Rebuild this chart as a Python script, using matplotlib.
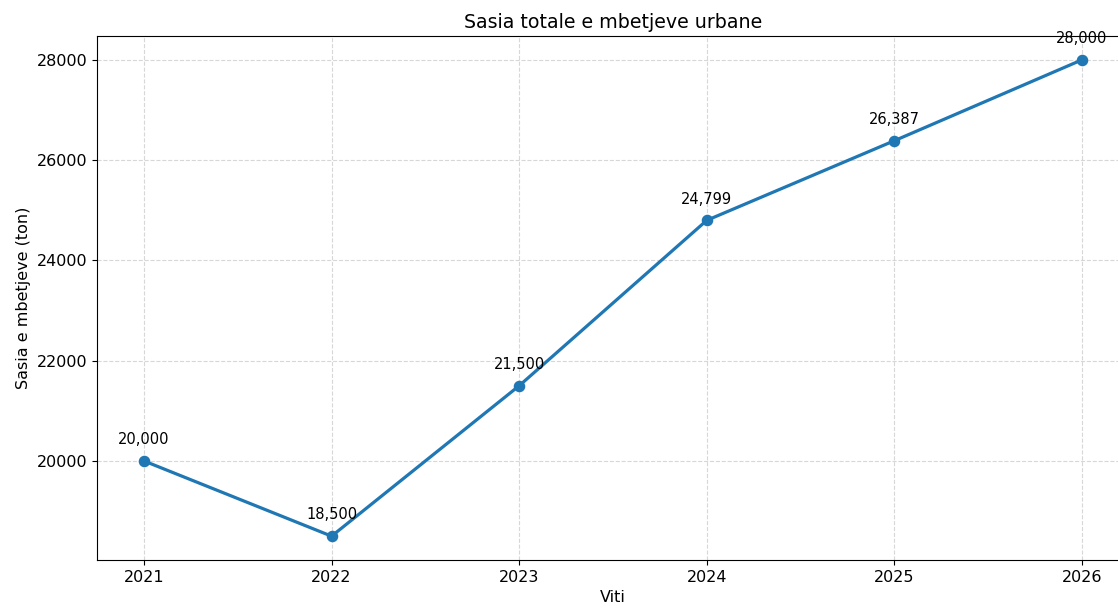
import matplotlib
matplotlib.use("Agg")
import matplotlib.pyplot as plt

# te dhenat
vitet = [2021, 2022, 2023, 2024, 2025, 2026]
mbetjet = [20000, 18500, 21500, 24799, 26387, 28000]

fig = plt.figure(figsize=(11.18, 6.1), dpi=100)
ax = fig.add_axes([0.0868, 0.082, 0.923, 0.859])

ax.plot(vitet, mbetjet, marker='o', linewidth=2.3, markersize=7.3, color='#1f77b4')

for x, y in zip(vitet, mbetjet):
    ax.annotate(f"{y:,}", (x, y), textcoords="offset points", xytext=(0, 12),
                ha='center', fontsize=10.5)

ax.set_title("Sasia totale e mbetjeve urbane", fontsize=13.7)
ax.set_xlabel("Viti", fontsize=11.5)
ax.set_ylabel("Sasia e mbetjeve (ton)", fontsize=11.5)
ax.set_xticks(vitet)
ax.set_yticks([20000, 22000, 24000, 26000, 28000])
ax.tick_params(labelsize=11.5)
ax.set_xlim(2020.75, 2026.25)
ax.grid(True, linestyle='--', alpha=0.5)

fig.savefig("out.png", dpi=100)
